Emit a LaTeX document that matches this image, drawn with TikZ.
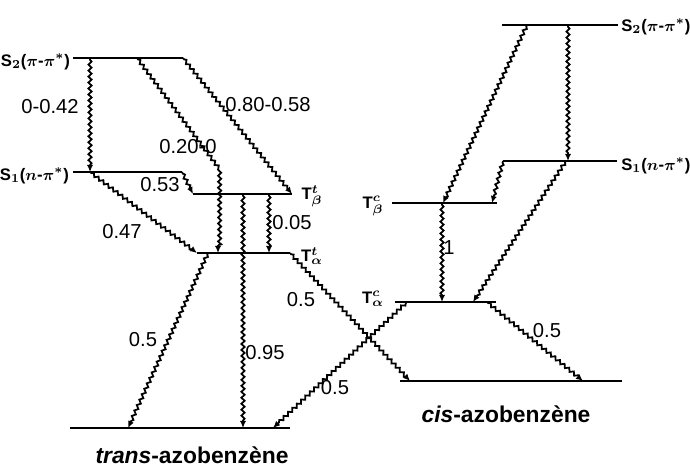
\documentclass[tikz,border=0pt]{standalone}
\usepackage{fontspec}
\setmainfont{Liberation Sans}
\usetikzlibrary{decorations.pathmorphing,arrows.meta}

\tikzset{
  lvl/.style={line width=1pt},
  nonrad/.style={line width=1pt,decorate,
    decoration={snake,amplitude=0.9pt,segment length=3.4pt,pre length=1pt,post length=3pt},
    -{Latex[length=4pt,width=3.5pt]}},
  lab/.style={font=\fontsize{9.5}{11}\selectfont\bfseries\boldmath,inner sep=1pt},
  yld/.style={font=\fontsize{11.5}{13}\selectfont,inner sep=1pt},
  molname/.style={font=\fontsize{13}{15}\selectfont\bfseries}
}

\begin{document}
\begin{tikzpicture}[x=0.02cm,y=-0.02cm]
  \useasboundingbox (0,0) rectangle (690,468);
  % trans levels
  \coordinate (S2tl) at (73,58);   \coordinate (S2tr) at (183,58);
  \coordinate (S1tl) at (73,172);  \coordinate (S1tr) at (182,172);
  \coordinate (Tbtl) at (193,194); \coordinate (Tbtr) at (292,194);
  \coordinate (Tatl) at (197,253); \coordinate (Tatr) at (290,253);
  \coordinate (Gtl) at (70,428);   \coordinate (Gtr) at (290,428);
  % cis levels
  \coordinate (S2cl) at (502,25);  \coordinate (S2cr) at (618,25);
  \coordinate (S1cl) at (503,161); \coordinate (S1cr) at (617,161);
  \coordinate (Tbcl) at (392,203); \coordinate (Tbcr) at (497,203);
  \coordinate (Tacl) at (395,302); \coordinate (Tacr) at (496,302);
  \coordinate (Gcl) at (400,381);  \coordinate (Gcr) at (622,381);
  \foreach \a/\b in {S2tl/S2tr,S1tl/S1tr,Tbtl/Tbtr,Tatl/Tatr,Gtl/Gtr,
                     S2cl/S2cr,S1cl/S1cr,Tbcl/Tbcr,Tacl/Tacr,Gcl/Gcr}
    \draw[lvl] (\a) -- (\b);

  % end points of the transitions
  \coordinate (S2tA) at (90,58);   \coordinate (S1tA) at (90,172);
  \coordinate (S2tB) at (137,58);  \coordinate (knee) at (218,167);
  \coordinate (TatB) at (218,253);
  \coordinate (TbtC) at (243,194); \coordinate (GtC) at (243,428);
  \coordinate (TbtD) at (269,194); \coordinate (TatD) at (269,253);
  \coordinate (TatE) at (208,253); \coordinate (GtE) at (128,428);
  \coordinate (GtF) at (273,428);  \coordinate (GcF) at (410,381);
  \coordinate (TacG) at (407,302); \coordinate (TacH) at (487,302);
  \coordinate (GcH) at (583,381);
  \coordinate (S2cA) at (527,25);  \coordinate (TbcA) at (443,203);
  \coordinate (S2cB) at (568,25);  \coordinate (S1cB) at (568,161);
  \coordinate (TbcC) at (492,203);
  \coordinate (S1cD) at (566,161); \coordinate (TacD) at (473,302);
  \coordinate (TbcE) at (442,203); \coordinate (TacE) at (442,302);

  % trans transitions
  \draw[nonrad] (S2tA) -- (S1tA);
  \draw[nonrad] (S2tB) -- (knee) -- (TatB);
  \draw[nonrad] (S2tr) -- (Tbtr);
  \draw[nonrad] (S1tr) -- (Tbtl);
  \draw[nonrad] (S1tA) -- (Tatl);
  \draw[nonrad] (TbtC) -- (GtC);
  \draw[nonrad] (TbtD) -- (TatD);
  \draw[nonrad] (TatE) -- (GtE);
  \draw[nonrad] (Tatr) -- (GcF);
  \draw[nonrad] (TacG) -- (GtF);
  % cis transitions
  \draw[nonrad] (S2cA) -- (TbcA);
  \draw[nonrad] (S2cB) -- (S1cB);
  \draw[nonrad] (S1cl) -- (TbcC);
  \draw[nonrad] (S1cD) -- (TacD);
  \draw[nonrad] (TbcE) -- (TacE);
  \draw[nonrad] (TacH) -- (GcH);

  % state labels
  \node[lab,anchor=east] (lS2t) at (72,62) {S$_2$($\pi$-$\pi^*$)};
  \node[lab,anchor=east] (lS1t) at (71,176) {S$_1$($n$-$\pi^*$)};
  \node[lab] (lTbt) at (312,196) {T$^t_\beta$};
  \node[lab] (lTat) at (312,256) {T$^t_\alpha$};
  \node[lab,anchor=west,inner sep=0pt] (lS2c) at (621,27) {S$_2$($\pi$-$\pi^*$)};
  \node[lab,anchor=west,inner sep=0pt] (lS1c) at (621,166) {S$_1$($n$-$\pi^*$)};
  \node[lab] (lTbc) at (373,206) {T$^c_\beta$};
  \node[lab] (lTac) at (373,299) {T$^c_\alpha$};

  % yields
  \node[yld] (y1) at (50,107) {0-0.42};
  \node[yld] (y2) at (188,147) {0.20-0};
  \node[yld] (y3) at (268,105) {0.80-0.58};
  \node[yld] (y4) at (160,185) {0.53};
  \node[yld] (y5) at (122,232) {0.47};
  \node[yld] (y6) at (292,223) {0.05};
  \node[yld] (y7) at (143,340) {0.5};
  \node[yld] (y8) at (265,353) {0.95};
  \node[yld] (y9) at (301,300) {0.5};
  \node[yld] (y10) at (335,388) {0.5};
  \node[yld] (y11) at (449,248) {1};
  \node[yld] (y12) at (547,331) {0.5};

  \node[molname] (trans) at (192,455) {\textit{trans}-azobenzène};
  \node[molname] (cis) at (506,414) {\textit{cis}-azobenzène};
\end{tikzpicture}
\end{document}
